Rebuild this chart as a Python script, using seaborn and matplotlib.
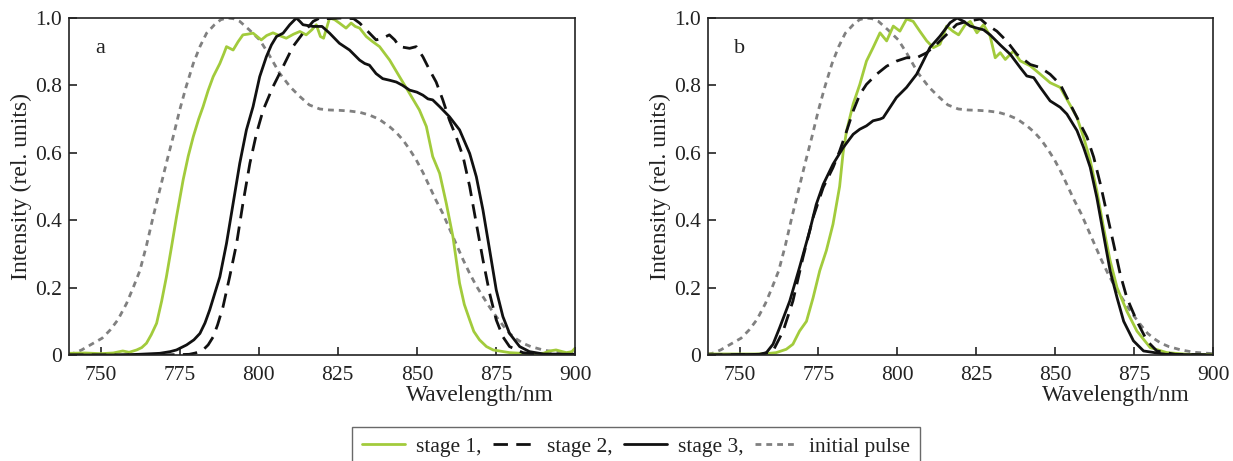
import numpy as np
import pandas as pd
import matplotlib
matplotlib.use("Agg")
import matplotlib.pyplot as plt
import seaborn as sns
from matplotlib.lines import Line2D

# ---------------- data ----------------
init_wl = [740, 741.4, 744, 747.7, 750.5, 753, 755.5, 758.2, 760.3, 762.4, 764.5, 766.6, 768.7, 770.8, 773, 775,
           777, 779.3, 781.4, 783.5, 786, 788, 790, 792, 794, 797, 800.3, 803, 806.6, 810, 813, 816, 819.3,
           822.4, 825.5, 828.7, 832, 835, 838, 841.3, 843.5, 845.6, 847.7, 849.8, 852, 854, 856, 858.2, 860.3,
           862.4, 864.5, 866.7, 868.8, 870.9, 873, 875.1, 877.2, 879.3, 881.4, 883.5, 886, 889.9, 894, 900]
init_I = [0.003, 0.005, 0.015, 0.035, 0.05, 0.074, 0.105, 0.153, 0.2, 0.25, 0.325, 0.41, 0.49, 0.57, 0.65, 0.727,
          0.795, 0.865, 0.915, 0.955, 0.98, 0.995, 1.0, 0.998, 0.99, 0.965, 0.935, 0.895, 0.836, 0.795, 0.767,
          0.742, 0.73, 0.727, 0.726, 0.724, 0.72, 0.712, 0.7, 0.678, 0.66, 0.638, 0.61, 0.579, 0.54, 0.5, 0.46,
          0.42, 0.375, 0.33, 0.285, 0.242, 0.205, 0.173, 0.142, 0.114, 0.088, 0.064, 0.048, 0.035, 0.025, 0.015,
          0.008, 0.004]

# panel a
s1a_wl = [740, 745, 750, 754, 757, 759, 761.4, 763, 764.5, 766, 767.7, 769.3, 770.8, 772.4, 774, 776.1, 777.7,
          779.3, 781, 782.4, 784, 785.6, 787.7, 789, 789.8, 791.9, 793.5, 795, 796.5, 798.2, 799.5, 800.8, 802.5,
          804.5, 806.5, 808.7, 811, 813, 815, 816.8, 818.2, 819.5, 820.5, 822.4, 824, 825.5, 827.6, 829.2, 830.5,
          831.9, 834, 836, 838.2, 841.4, 844.5, 847.7, 850.8, 853, 855, 857.2, 859.3, 861.4, 863.5, 865, 866.7,
          868, 869.8, 872, 874.1, 879.3, 885, 890, 892, 894, 896, 897.3, 899, 900]
s1a_I = [0.005, 0.006, 0.004, 0.006, 0.012, 0.008, 0.015, 0.022, 0.035, 0.06, 0.094, 0.16, 0.232, 0.32, 0.41, 0.52,
         0.59, 0.648, 0.7, 0.737, 0.785, 0.826, 0.865, 0.895, 0.915, 0.905, 0.93, 0.95, 0.952, 0.955, 0.945, 0.935,
         0.948, 0.956, 0.948, 0.94, 0.952, 0.96, 0.95, 0.965, 0.98, 0.945, 0.94, 1.0, 0.995, 0.985, 0.97, 0.985,
         0.975, 0.97, 0.945, 0.93, 0.915, 0.875, 0.826, 0.776, 0.727, 0.678, 0.589, 0.539, 0.45, 0.351, 0.213,
         0.15, 0.104, 0.07, 0.045, 0.025, 0.015, 0.007, 0.004, 0.005, 0.012, 0.015, 0.01, 0.007, 0.01, 0.02]

s2a_wl = [740, 770, 778, 780, 782.4, 784, 785.6, 787, 788.7, 790.8, 793, 795, 797.2, 799.3, 801.4, 804.5, 807.7,
          810.8, 814, 817.2, 819.3, 822, 826, 830, 831.9, 834, 837.1, 839.2, 841.3, 843, 844.5, 847.7, 849.8,
          851.9, 854, 856.1, 858.2, 860.3, 862.4, 864.6, 866.7, 868.8, 870.9, 873, 875.1, 877.2, 879.3, 883.5,
          890, 900]
s2a_I = [0.0, 0.0, 0.002, 0.006, 0.015, 0.03, 0.054, 0.09, 0.143, 0.232, 0.331, 0.45, 0.569, 0.658, 0.727, 0.796,
         0.856, 0.915, 0.955, 0.99, 1.0, 0.998, 1.0, 0.998, 0.985, 0.965, 0.935, 0.94, 0.95, 0.935, 0.915, 0.91,
         0.915, 0.885, 0.846, 0.81, 0.757, 0.697, 0.648, 0.589, 0.5, 0.39, 0.282, 0.183, 0.104, 0.054, 0.025,
         0.007, 0.0, 0.0]

s3a_wl = [740, 755, 762, 768.7, 772, 774, 777.2, 779.5, 781.4, 783, 784.5, 786, 787.7, 789.8, 791.9, 794, 796.1,
          798.2, 800.3, 802.4, 804, 805.6, 807.7, 809.8, 811.9, 813, 814, 817.2, 820, 822.4, 825.5, 828.7, 831.9,
          833.5, 835, 837.1, 839.2, 841.5, 843.5, 845.5, 847.7, 850, 851.9, 853.5, 855, 857.2, 860.3, 863.5,
          866.7, 868.8, 870.9, 873, 875.1, 877.2, 879.3, 882.5, 885.6, 890, 900]
s3a_I = [0.0, 0.0, 0.002, 0.005, 0.01, 0.015, 0.03, 0.045, 0.064, 0.095, 0.134, 0.18, 0.232, 0.331, 0.45, 0.569,
         0.668, 0.737, 0.826, 0.885, 0.92, 0.945, 0.955, 0.98, 1.0, 0.99, 0.98, 0.975, 0.975, 0.955, 0.925, 0.905,
         0.875, 0.865, 0.86, 0.835, 0.82, 0.815, 0.81, 0.8, 0.786, 0.78, 0.771, 0.76, 0.757, 0.737, 0.707, 0.668,
         0.598, 0.529, 0.43, 0.312, 0.193, 0.114, 0.064, 0.025, 0.01, 0.003, 0.002]

# panel b
s1b_wl = [740, 755, 758.5, 761.6, 764.8, 766.9, 769, 771.2, 773.3, 775.4, 777.5, 779.6, 781.7, 782.8, 783.9, 786,
          788.1, 790.2, 792.3, 794.5, 796.6, 798.7, 800.8, 802.9, 805, 807.1, 809.3, 811.4, 813.5, 815.6, 817.7,
          819.4, 821.5, 823.1, 825.2, 827.3, 829.4, 831, 832.6, 834.2, 836.8, 838.9, 842.1, 845.3, 848.4, 851.6,
          853.7, 856.9, 859, 861.1, 863.2, 865.3, 867.4, 869.6, 872.7, 875.9, 880.1, 885.4, 892, 900]
s1b_I = [0.003, 0.003, 0.004, 0.007, 0.017, 0.032, 0.071, 0.1, 0.17, 0.25, 0.31, 0.388, 0.5, 0.6, 0.665, 0.745,
         0.803, 0.872, 0.912, 0.956, 0.932, 0.976, 0.961, 0.997, 0.99, 0.961, 0.932, 0.912, 0.922, 0.976, 0.96,
         0.95, 0.98, 0.99, 0.956, 0.98, 0.946, 0.882, 0.897, 0.877, 0.902, 0.873, 0.858, 0.833, 0.808, 0.794,
         0.759, 0.705, 0.646, 0.577, 0.487, 0.379, 0.28, 0.2, 0.13, 0.071, 0.022, 0.007, 0.002, 0.001]

s2b_wl = [740, 757, 760.6, 763.8, 766.9, 770.1, 773.3, 776.5, 779.6, 781.7, 783.9, 786, 788.1, 790.2, 793.4, 796.6,
          799.7, 802.9, 806.1, 809.3, 812.4, 815.6, 818.8, 822, 826.3, 828.4, 831.5, 834.7, 837.9, 842.1, 845.3,
          848.4, 851.6, 853.7, 856.9, 860.1, 862.2, 864.3, 866.4, 868.5, 870.6, 872.7, 875.9, 879.1, 882.2, 888,
          900]
s2b_I = [0.0, 0.002, 0.012, 0.071, 0.16, 0.29, 0.408, 0.497, 0.556, 0.605, 0.664, 0.724, 0.773, 0.803, 0.833,
         0.857, 0.872, 0.882, 0.882, 0.897, 0.922, 0.951, 0.981, 0.99, 0.997, 0.98, 0.961, 0.931, 0.892, 0.862,
         0.853, 0.833, 0.803, 0.764, 0.705, 0.646, 0.587, 0.508, 0.419, 0.33, 0.24, 0.17, 0.1, 0.042, 0.012,
         0.002, 0.0]

s3b_wl = [740, 756.3, 758.5, 760.6, 762.7, 765.9, 769, 772.2, 774.3, 776.5, 779.6, 782.8, 786, 788.1, 790.2, 792.3,
          794.5, 795.5, 797.6, 799.7, 802.9, 806.1, 808.2, 810.3, 813.5, 816.7, 818.9, 821, 823.1, 825.2, 827.3,
          829.4, 832.6, 835.8, 838.9, 841, 843.2, 845.3, 848.4, 851.6, 853.7, 856.9, 859, 861.1, 863.2, 865.3,
          867.4, 869.6, 871.7, 874.8, 878, 885, 900]
s3b_I = [0.0, 0.002, 0.007, 0.032, 0.081, 0.16, 0.26, 0.368, 0.447, 0.506, 0.566, 0.615, 0.655, 0.67, 0.68, 0.695,
         0.7, 0.704, 0.734, 0.764, 0.794, 0.833, 0.872, 0.912, 0.946, 0.986, 1.0, 0.99, 0.976, 0.97, 0.965, 0.95,
         0.92, 0.892, 0.853, 0.828, 0.823, 0.794, 0.754, 0.735, 0.715, 0.666, 0.616, 0.557, 0.467, 0.358, 0.25,
         0.17, 0.1, 0.042, 0.012, 0.002, 0.0]

x_ticks = [750, 775, 800, 825, 850, 875, 900]
y_ticks = [0, 0.2, 0.4, 0.6, 0.8, 1.0]
y_tick_labels = ["0", "0.2", "0.4", "0.6", "0.8", "1.0"]
legend_labels = ["stage 1,", "stage 2,", "stage 3,", "initial pulse"]
panel_letters = ["a", "b"]

# ---------------- style ----------------
sns.set_theme(style="ticks")
plt.rcParams["font.family"] = ["Liberation Serif", "DejaVu Serif"]
plt.rcParams["font.size"] = 15
plt.rcParams["axes.linewidth"] = 1.2

GREEN = "#a2cb3c"
BLACK = "#111111"
GRAY = "#808080"
LW = 2.0
TXT = "#222222"

fig = plt.figure(figsize=(12.33, 4.61), dpi=100)
axA = fig.add_axes([69 / 1233, 1 - 355 / 461, (575 - 69) / 1233, (355 - 18) / 461])
axB = fig.add_axes([708 / 1233, 1 - 355 / 461, (1213 - 708) / 1233, (355 - 18) / 461])

panels = [
    (axA, s1a_wl, s1a_I, s2a_wl, s2a_I, s3a_wl, s3a_I, 0.812),
    (axB, s1b_wl, s1b_I, s2b_wl, s2b_I, s3b_wl, s3b_I, 0.808),
]

for i, (ax, w1, i1, w2, i2, w3, i3, xlab_x) in enumerate(panels):
    sns.lineplot(x=init_wl, y=init_I, ax=ax, color=GRAY, lw=LW, sort=False)
    ax.lines[-1].set_dashes((2.1, 1.8))
    sns.lineplot(x=w1, y=i1, ax=ax, color=GREEN, lw=LW, sort=False)
    sns.lineplot(x=w2, y=i2, ax=ax, color=BLACK, lw=LW, sort=False)
    ax.lines[-1].set_dashes((5.2, 3.0))
    sns.lineplot(x=w3, y=i3, ax=ax, color=BLACK, lw=LW, sort=False)

    ax.set_xlim(740, 900)
    ax.set_ylim(0, 1.0)
    ax.set_xticks(x_ticks)
    ax.set_yticks(y_ticks)
    ax.set_yticklabels(y_tick_labels)
    ax.tick_params(direction="in", length=6, width=1.2, colors=TXT, labelsize=15.5,
                   top=False, right=False, pad=5)
    ax.tick_params(axis="x", pad=8)
    for sp in ax.spines.values():
        sp.set_visible(True)
        sp.set_color(TXT)
        sp.set_linewidth(1.2)
    ax.set_xlabel("Wavelength/nm", fontsize=16.8, color=TXT)
    ax.xaxis.set_label_coords(xlab_x, -0.088)
    ax.set_ylabel("Intensity (rel. units)", fontsize=17, color=TXT)
    ax.yaxis.set_label_coords(-0.073, 0.5)
    ax.text(0.062, 0.91, panel_letters[i], transform=ax.transAxes, fontsize=16, color=TXT,
            ha="center", va="center")

handles = [
    Line2D([], [], color=GREEN, lw=LW),
    Line2D([], [], color=BLACK, lw=LW, dashes=(5.2, 3.0)),
    Line2D([], [], color=BLACK, lw=LW),
    Line2D([], [], color=GRAY, lw=LW, dashes=(2.1, 1.8)),
]
leg = fig.legend(handles, legend_labels, loc="upper left", bbox_to_anchor=(352 / 1233, 1 - 427 / 461),
                 ncol=4, frameon=True, fancybox=False, edgecolor="#444444", fontsize=15.5,
                 handlelength=2.0, handletextpad=0.5, columnspacing=0.55, borderpad=0.45,
                 borderaxespad=0)
leg.get_frame().set_linewidth(1.0)
for t in leg.get_texts():
    t.set_color(TXT)

fig.savefig("out.png", dpi=100)
